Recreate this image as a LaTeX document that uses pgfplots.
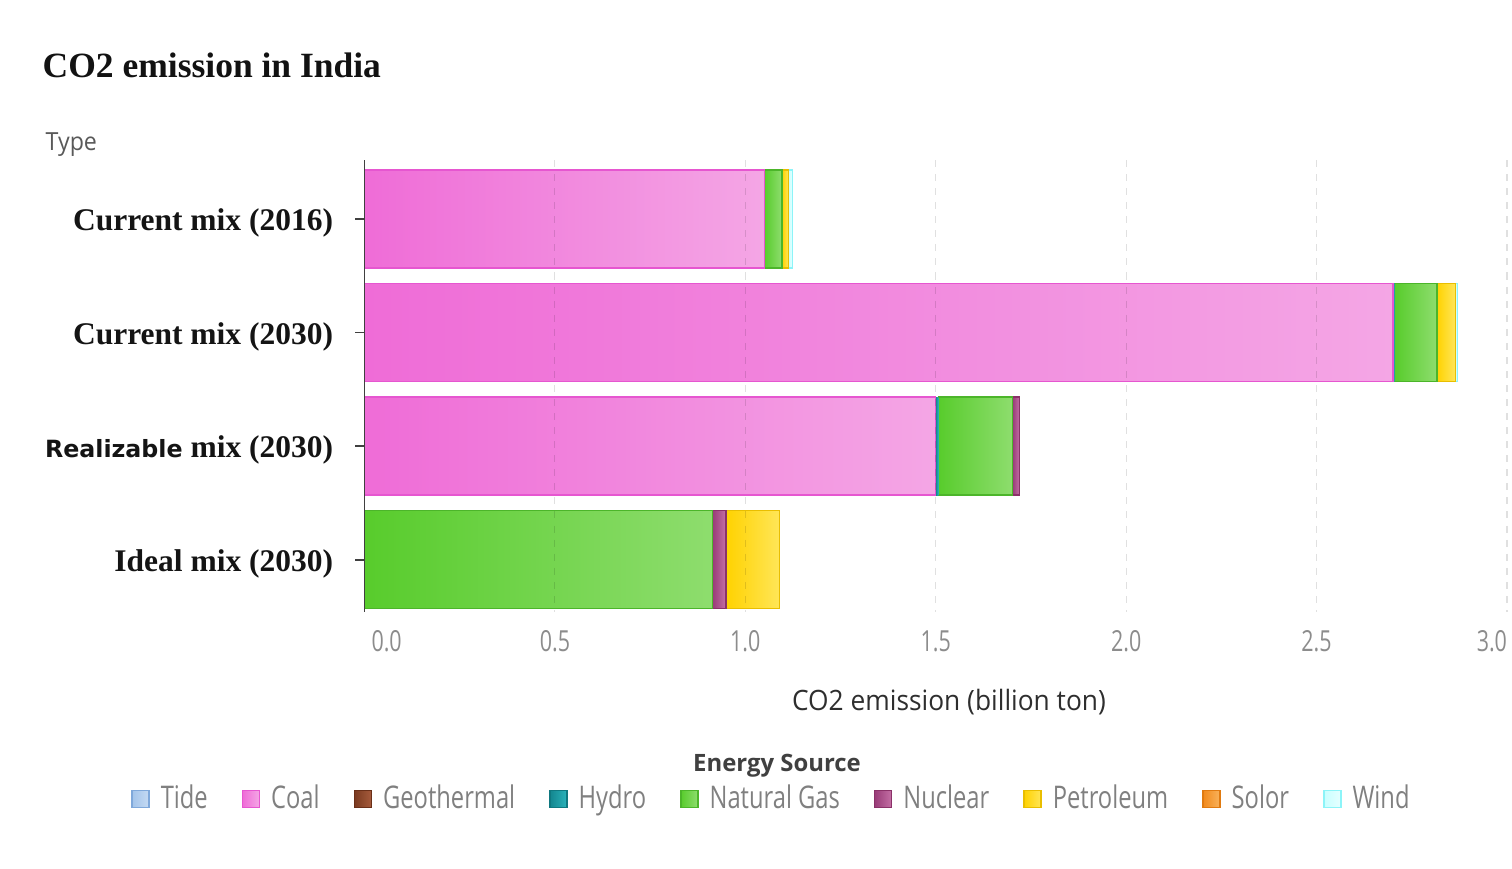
\documentclass[border=0pt]{standalone}
\usepackage{fontspec}
\usepackage{pgfplots}
\pgfplotsset{compat=1.18}
\setmainfont{Open Sans}
\newfontfamily\serifb{Liberation Serif}
\newfontfamily\labsans{DejaVu Sans}
\newfontfamily\tickfont[FakeStretch=0.74]{Open Sans}
\newfontfamily\legfont[FakeStretch=0.76]{Open Sans}
\newfontfamily\xlabfont[FakeStretch=0.94]{Open Sans}
\newfontfamily\typefont[FakeStretch=0.93]{Open Sans}

% segment colours: left / right end of the gradient and border
\definecolor{coalL}{HTML}{EF6CD7}\definecolor{coalR}{HTML}{F4A6E5}\definecolor{coalB}{HTML}{E656D0}
\definecolor{gasL}{HTML}{58CC2C}\definecolor{gasR}{HTML}{8EDD6E}\definecolor{gasB}{HTML}{4CB52A}
\definecolor{petL}{HTML}{FFD200}\definecolor{petR}{HTML}{FFE658}\definecolor{petB}{HTML}{E9BE00}
\definecolor{nucL}{HTML}{993C78}\definecolor{nucR}{HTML}{C46FA5}\definecolor{nucB}{HTML}{8A3168}
\definecolor{hydL}{HTML}{13868F}\definecolor{hydR}{HTML}{2BB3BB}\definecolor{hydB}{HTML}{0F7880}
\definecolor{windL}{HTML}{C8FFFF}\definecolor{windR}{HTML}{E6FFFF}\definecolor{windB}{HTML}{8CF4F8}
\definecolor{tideL}{HTML}{A3C4EA}\definecolor{tideR}{HTML}{C5DAF3}\definecolor{tideB}{HTML}{7FA8DA}
\definecolor{geoL}{HTML}{7A3A20}\definecolor{geoR}{HTML}{A65B3C}\definecolor{geoB}{HTML}{6A2F18}
\definecolor{solL}{HTML}{F28A1C}\definecolor{solR}{HTML}{F8B25C}\definecolor{solB}{HTML}{E07A10}

\pgfplotsset{
  seg/.style={left color=#1L, right color=#1R, draw=none,
    legend image code/.code={\path[draw=#1B, left color=#1L, right color=#1R, line width=0.4pt]
      (0cm,-0.085cm) rectangle (0.17cm,0.085cm);}},
  segb/.style={seg=#1, draw=#1B, line width=0.4pt},
  % common frame shared by every layer of the chart
  geom/.style={at={(3.645cm,2.56cm)}, anchor=south west,
    scale only axis, width=11.425cm, height=4.52cm,
    xmin=0, xmax=3, ymin=-0.52, ymax=3.46, y dir=reverse},
  % one layer per bar, so each segment carries its own gradient
  barlayer/.style={geom, hide axis, xbar stacked, bar width=0.98cm},
}

\begin{document}
\begin{tikzpicture}
\path[use as bounding box] (0,0) rectangle (15.12,8.68);

% Current mix (2016)
\begin{axis}[barlayer]
\addplot[segb=coal] coordinates {(1.05,0)};
\addplot[segb=gas]  coordinates {(0.046,0)};
\addplot[segb=pet]  coordinates {(0.017,0)};
\addplot[segb=wind] coordinates {(0.011,0)};
\end{axis}

% Current mix (2030)
\begin{axis}[barlayer]
\addplot[segb=coal] coordinates {(2.701,1)};
\addplot[seg=hyd]   coordinates {(0.004,1)};
\addplot[segb=gas]  coordinates {(0.111,1)};
\addplot[segb=pet]  coordinates {(0.048,1)};
\addplot[segb=wind] coordinates {(0.006,1)};
\end{axis}

% Realizable mix (2030)
\begin{axis}[barlayer]
\addplot[segb=coal] coordinates {(1.50,2)};
\addplot[seg=hyd]   coordinates {(0.007,2)};
\addplot[segb=gas]  coordinates {(0.195,2)};
\addplot[segb=nuc]  coordinates {(0.018,2)};
\end{axis}

% Ideal mix (2030)
\begin{axis}[barlayer]
\addplot[segb=gas] coordinates {(0.914,3)};
\addplot[segb=nuc] coordinates {(0.035,3)};
\addplot[segb=pet] coordinates {(0.141,3)};
\end{axis}

% frame: grid, axis line, tick labels and legend on top of the bars
\begin{axis}[
  geom,
  ytick={0,1,2,3},
  yticklabels={
    {Current mix (2016)},
    {Current mix (2030)},
    {{\labsans\bfseries\fontsize{6.75}{8}\selectfont Realizable} mix (2030)},
    {Ideal mix (2030)}},
  xtick={0,0.5,1,1.5,2,2.5,3},
  xticklabels={\makebox[0pt][l]{\hspace{0.07cm}0.0},0.5,1.0,1.5,2.0,2.5,\makebox[0pt][r]{3.0}},
  axis lines*=left,
  x axis line style={draw=none},
  y axis line style={draw=black!75, line width=0.45pt},
  xmajorgrids,
  grid style={draw=black, draw opacity=0.12, dash pattern=on 2pt off 2pt, line width=0.3pt},
  tick align=outside, major tick length=0.09cm,
  xtick style={draw=none},
  ytick style={draw=black!75, line width=0.45pt},
  xticklabel style={font=\tickfont\fontsize{8.25}{9}\selectfont, text=black!45, yshift=0.03cm},
  yticklabel style={font=\serifb\bfseries\fontsize{8.96}{10}\selectfont, text=black!92,
    anchor=east, xshift=-0.1cm, yshift=-0.04cm},
  legend columns=-1,
  legend cell align=left,
  legend style={at={(0.3584,-0.4137)}, anchor=center, draw=none, fill=none,
    font=\legfont\fontsize{8.88}{10}\selectfont, text=black!50,
    /tikz/every odd column/.append style={column sep=0.04cm},
    /tikz/every even column/.append style={column sep=0.27cm}},
]
\addlegendimage{seg=tide}\addlegendentry{Tide}
\addlegendimage{seg=coal}\addlegendentry{Coal}
\addlegendimage{seg=geo}\addlegendentry{Geothermal}
\addlegendimage{seg=hyd}\addlegendentry{Hydro}
\addlegendimage{seg=gas}\addlegendentry{Natural Gas}
\addlegendimage{seg=nuc}\addlegendentry{Nuclear}
\addlegendimage{seg=pet}\addlegendentry{Petroleum}
\addlegendimage{seg=sol}\addlegendentry{Solor}
\addlegendimage{seg=wind}\addlegendentry{Wind}
\end{axis}

\node[anchor=base west, inner sep=0pt, font=\serifb\bfseries\fontsize{10.1}{12}\selectfont, text=black!93] at (0.42,7.91) {CO2 emission in India};
\node[anchor=base west, inner sep=0pt, font=\typefont\fontsize{7.1}{8}\selectfont, text=black!65] at (0.45,7.17) {Type};
\node[anchor=base, inner sep=0pt, font=\xlabfont\fontsize{7.97}{9}\selectfont, text=black!82] at (9.49,1.58) {CO2 emission (billion ton)};
\node[anchor=base, inner sep=0pt, font=\bfseries\fontsize{6.8}{8}\selectfont, text=black!75] at (7.77,0.97) {Energy Source};
\end{tikzpicture}
\end{document}
